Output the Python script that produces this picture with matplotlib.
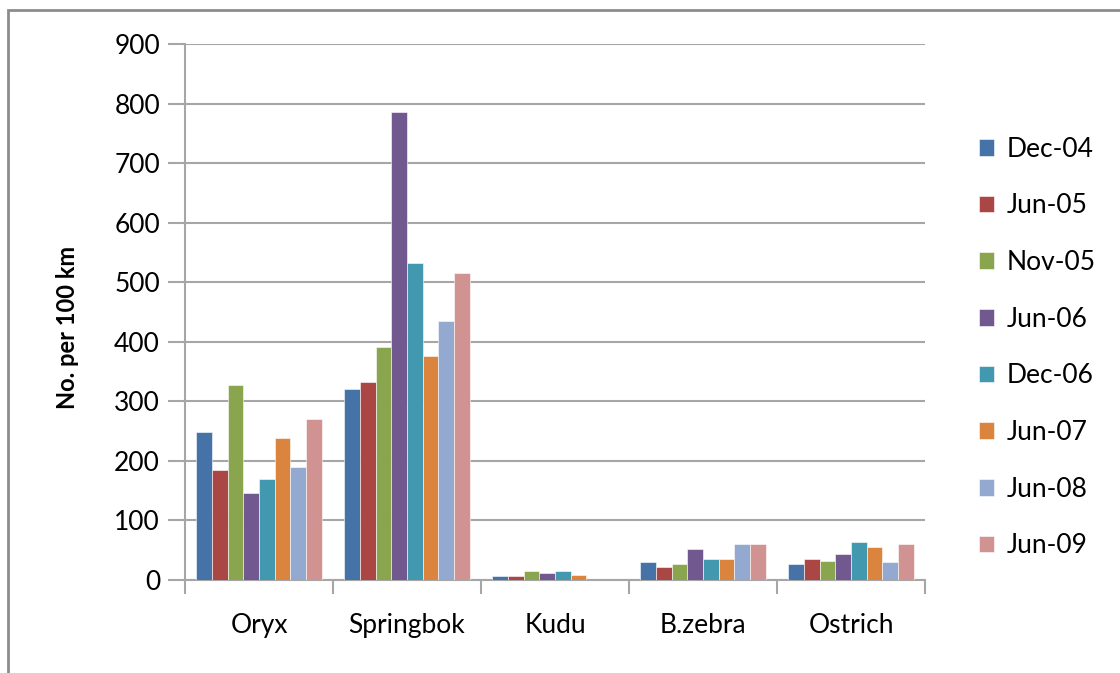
import matplotlib
matplotlib.use("Agg")
import matplotlib.pyplot as plt
import numpy as np
from matplotlib.patches import Rectangle

categories = ["Oryx", "Springbok", "Kudu", "B.zebra", "Ostrich"]
series_names = ["Dec-04", "Jun-05", "Nov-05", "Jun-06", "Dec-06", "Jun-07", "Jun-08", "Jun-09"]
dec04 = [248, 320, 7, 30, 27]
jun05 = [185, 332, 7, 22, 35]
nov05 = [327, 391, 15, 27, 32]
jun06 = [146, 786, 12, 52, 44]
dec06 = [170, 532, 15, 35, 63]
jun07 = [238, 376, 9, 35, 56]
jun08 = [189, 435, 0, 61, 30]
jun09 = [270, 515, 0, 61, 61]
series_values = [dec04, jun05, nov05, jun06, dec06, jun07, jun08, jun09]
y_ticks = [0, 100, 200, 300, 400, 500, 600, 700, 800, 900]

colors = ["#4572A7", "#AA4643", "#89A54E", "#71588F", "#4198AF", "#DB843D", "#93A9CF", "#D19392"]

plt.rcParams['font.family'] = ['Lato', 'DejaVu Sans']

W, H = 1120, 673
fig = plt.figure(figsize=(W / 100, H / 100), dpi=100)
fig.patch.set_facecolor("white")

# outer chart border
fig.patches.append(Rectangle((8 / W, -0.1), 1.2, (H - 10) / H + 0.1, transform=fig.transFigure,
                             fill=False, edgecolor="#8C8C8C", linewidth=2))

left, right, top, bottom = 185, 925, 44, 580
ax = fig.add_axes([left / W, 1 - bottom / H, (right - left) / W, (bottom - top) / H])

n = len(series_names)
group = 0.847
bw = group / n
x = np.arange(len(categories))
for i, (name, vals) in enumerate(zip(series_names, series_values)):
    offs = -group / 2 + bw * (i + 0.5)
    ax.bar(x + offs, vals, width=bw, color=colors[i], label=name,
           edgecolor="white", linewidth=0.4, zorder=3)

ax.set_xlim(-0.5, len(categories) - 0.5)
ax.set_ylim(0, 900)
ax.set_yticks(y_ticks)
ax.set_yticklabels([str(v) for v in y_ticks], fontsize=19)
ax.yaxis.grid(True, color="#A6A6A6", linewidth=1.5, zorder=0)
ax.set_axisbelow(True)

ax.set_xticks(x)
ax.set_xticklabels(categories, fontsize=19)
ax.tick_params(axis="x", length=0, pad=24)
ax.set_xticks(np.arange(-0.5, len(categories)), minor=True)
ax.tick_params(axis="x", which="minor", length=10, width=1.5, color="#A6A6A6", direction="out")
ax.tick_params(axis="y", length=12, width=1.5, color="#A6A6A6", pad=6)

for s in ["top", "right"]:
    ax.spines[s].set_visible(False)
for s in ["left", "bottom"]:
    ax.spines[s].set_color("#A6A6A6")
    ax.spines[s].set_linewidth(1.5)

ax.set_ylabel("No. per 100 km", fontsize=17, fontweight="bold")
ax.yaxis.set_label_coords((79 - left) / (right - left), (bottom - 327) / (bottom - top))

handles, labels = ax.get_legend_handles_labels()
leg = fig.legend(handles, labels, loc="upper left", bbox_to_anchor=(968 / W, 1 - 126 / H),
                 frameon=False, fontsize=19, handlelength=0.6, handleheight=0.6,
                 handletextpad=0.45, labelspacing=1.2, borderaxespad=0)

fig.savefig("out.png", dpi=100, facecolor="white")
